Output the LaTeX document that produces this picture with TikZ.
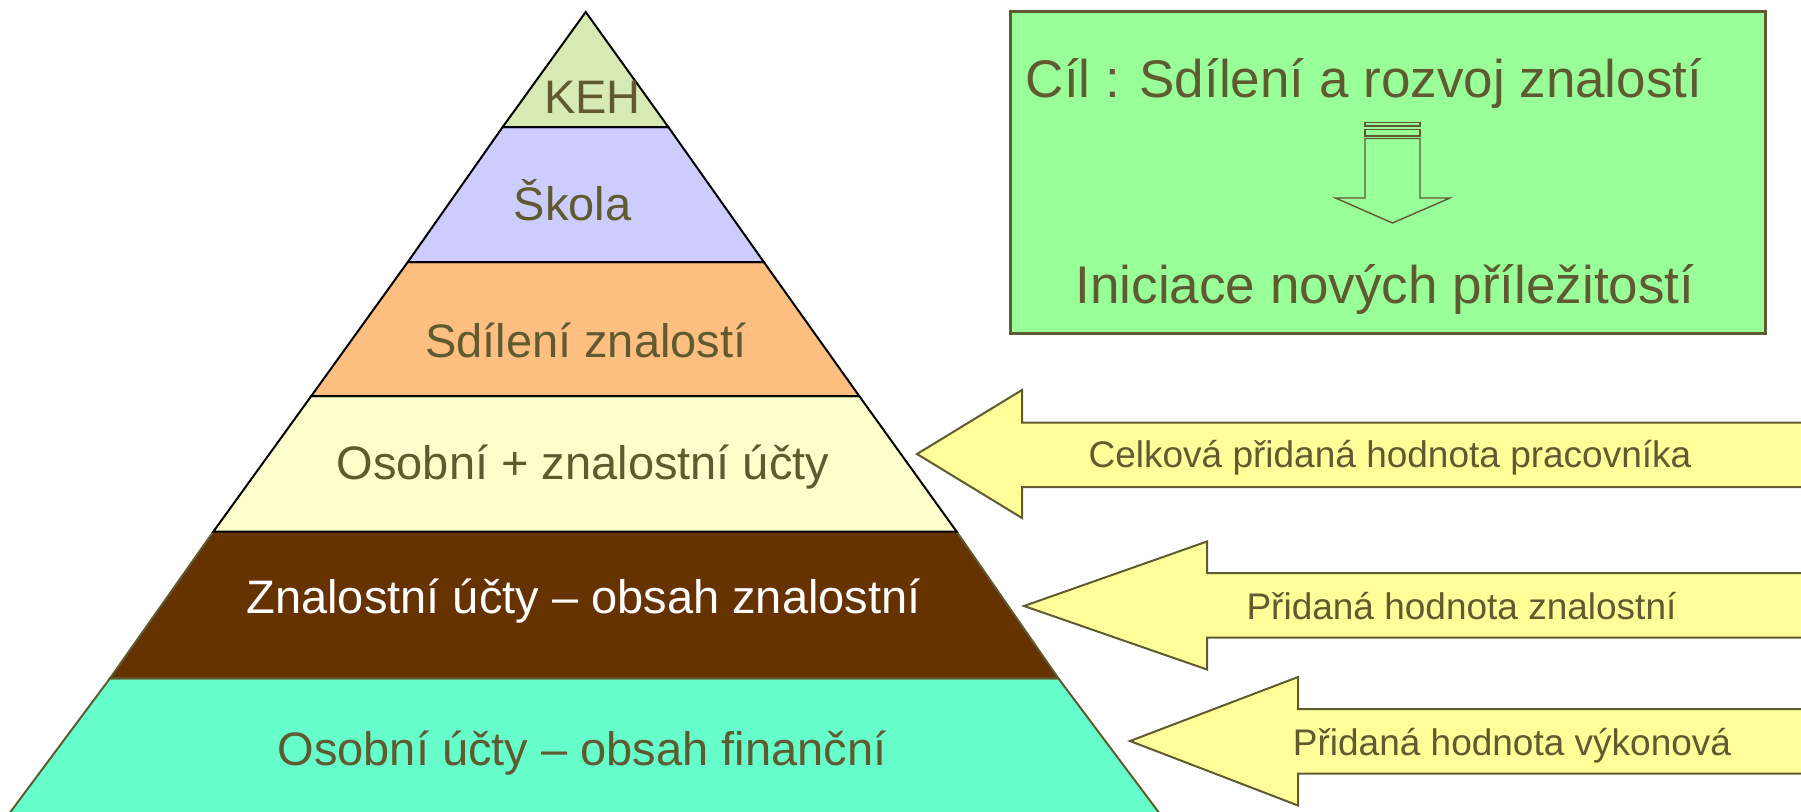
\documentclass[tikz,border=0pt]{standalone}
\usepackage{fontspec}
\setmainfont{Liberation Sans}
\definecolor{txt}{RGB}{95,90,48}
\definecolor{edge}{RGB}{95,90,48}
\definecolor{kehc}{RGB}{216,234,180}
\definecolor{skolac}{RGB}{204,204,255}
\definecolor{sdilc}{RGB}{255,191,128}
\definecolor{osobc}{RGB}{255,255,204}
\definecolor{znalc}{RGB}{102,51,0}
\definecolor{finc}{RGB}{102,255,204}
\definecolor{boxc}{RGB}{153,255,153}
\definecolor{arrc}{RGB}{255,255,153}
\begin{document}
\begin{tikzpicture}[x=1pt,y=-1pt,
  layer/.style={draw=black,line width=2pt,line join=miter},
  lowlayer/.style={draw=edge,line width=2pt,line join=miter},
  lbl/.style={text=txt,font=\fontsize{47}{52}\selectfont,inner sep=0pt,anchor=base},
  boxlbl/.style={text=txt,font=\fontsize{53}{58}\selectfont,inner sep=0pt,anchor=base},
  alb/.style={text=txt,font=\fontsize{37}{40}\selectfont,inner sep=0pt,anchor=base},
  yarrow/.style={draw=edge,fill=arrc,line width=2pt,line join=miter},
  thinedge/.style={draw=edge,line width=1.4pt,line join=miter},
]
\useasboundingbox (0,0) rectangle (1801,811);
\clip (0,0) rectangle (1801,811);

% pyramid layers
\path[lowlayer,fill=finc] (110,678.3) -- (1058.3,678.3) -- (1172,830) -- (-3,830) -- cycle;
\path[lowlayer,fill=znalc] (213.3,531.7) -- (956.7,531.7) -- (1058.3,678.3) -- (110,678.3) -- cycle;
\path[layer,fill=osobc] (311.3,396) -- (859.2,396) -- (956.7,531.7) -- (213.3,531.7) -- cycle;
\path[layer,fill=sdilc] (407.8,262) -- (763.8,262) -- (859.2,396) -- (311.3,396) -- cycle;
\path[layer,fill=skolac] (502.7,127) -- (668.3,127) -- (763.8,262) -- (407.8,262) -- cycle;
\path[layer,fill=kehc] (585.7,12) -- (668.3,127) -- (502.7,127) -- cycle;

\node[lbl] (keh) at (592.5,113.3) {KEH};
\node[lbl] (skola) at (572.5,220) {Škola};
\node[lbl] (sdil) at (585.8,357) {Sdílení znalostí};
\node[lbl] (osob) at (583,479) {Osobní + znalostní účty};
\node[lbl,text=white] (znal) at (583.6,613) {Znalostní účty – obsah znalostní};
\node[lbl] (fin) at (582,765) {Osobní účty – obsah finanční};

% goal box
\path[draw=edge,line width=3pt,fill=boxc] (1010,11.5) rectangle (1765,333);
\node[boxlbl] (cil) at (1364,97) {Cíl : Sdílení a rozvoj znalostí};
\node[boxlbl] (inic) at (1385,303) {Iniciace nových příležitostí};
\path[thinedge] (1365,122.7) rectangle (1420,126);
\path[thinedge] (1365,129.5) rectangle (1420,136);
\path[thinedge] (1365,138.5) -- (1420,138.5) -- (1420,198) -- (1450,198)
  -- (1392.5,223) -- (1335.5,198) -- (1365,198) -- cycle;

% yellow arrows
\path[yarrow] (917,454) -- (1022,390) -- (1022,422.5) -- (1830,422.5)
  -- (1830,487) -- (1022,487) -- (1022,518) -- cycle;
\node[alb] (a1) at (1390,467.5) {Celková přidaná hodnota pracovníka};
\path[yarrow] (1024,606) -- (1207,541.5) -- (1207,573) -- (1830,573)
  -- (1830,637.7) -- (1207,637.7) -- (1207,669.5) -- cycle;
\node[alb] (a2) at (1461.5,619.3) {Přidaná hodnota znalostní};
\path[yarrow] (1130,741) -- (1298,677) -- (1298,709) -- (1830,709)
  -- (1830,773.5) -- (1298,773.5) -- (1298,805.5) -- cycle;
\node[alb] (a3) at (1512,755) {Přidaná hodnota výkonová};
\end{tikzpicture}
\end{document}
